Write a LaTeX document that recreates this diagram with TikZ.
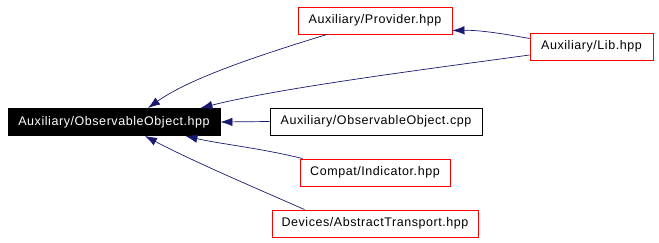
\documentclass[tikz,border=0pt]{standalone}
\usepackage{fontspec}
\setmainfont{Liberation Sans}
\newfontfamily\graphfont[LetterSpace=4.5]{Liberation Sans}
\usetikzlibrary{arrows.meta}
\definecolor{edgeblue}{RGB}{25,25,112}
\tikzset{
file/.style={draw=red, line width=0.9pt, minimum height=27pt, inner sep=0pt, font=\graphfont\fontsize{12.5}{14}\selectfont}, % an including file
plain/.style={file, draw=black}, % the source file, not a header
current/.style={file, draw=black, fill=black, text=white}, % the file itself
dep/.style={draw=edgeblue, line width=0.7pt, -{Latex[length=12pt, width=8.5pt]}}, % who includes whom
}

\begin{document}
\begin{tikzpicture}[x=1pt, y=-1pt]
  \useasboundingbox (0,0) rectangle (659,243);

  \node[current, minimum width=212pt] (obs) at (114,122) {Auxiliary/ObservableObject.hpp};
  \node[file, minimum width=154pt] (prov) at (375,20.5) {Auxiliary/Provider.hpp};
  \node[file, minimum width=123pt] (lib) at (591.5,46.5) {Auxiliary/Lib.hpp};
  \node[plain, minimum width=212pt] (cpp) at (376,121.5) {Auxiliary/ObservableObject.cpp};
  \node[file, minimum width=150pt] (ind) at (375,172.5) {Compat/Indicator.hpp};
  \node[file, minimum width=206pt] (trans) at (375,223.5) {Devices/AbstractTransport.hpp};

  % edges point at the included file
  \draw[dep] ([xshift=-48pt]prov.south) .. controls (260,55) and (190,78) .. ([xshift=34pt]obs.north);
  \draw[dep] ([yshift=8pt]lib.west) .. controls (505,34) and (480,30) .. ([yshift=-10pt]prov.east);
  \draw[dep] ([yshift=-8.5pt]lib.west) .. controls (420,70) and (280,88) .. ([xshift=-20pt]obs.north east);
  \draw[dep] (cpp.west) -- (obs.east);
  \draw[dep] ([xshift=3pt]ind.north west) .. controls (260,148) and (220,144) .. ([xshift=-35pt]obs.south east);
  \draw[dep] ([xshift=33pt]trans.north west) .. controls (260,190) and (190,160) .. ([xshift=31pt]obs.south);
\end{tikzpicture}
\end{document}
